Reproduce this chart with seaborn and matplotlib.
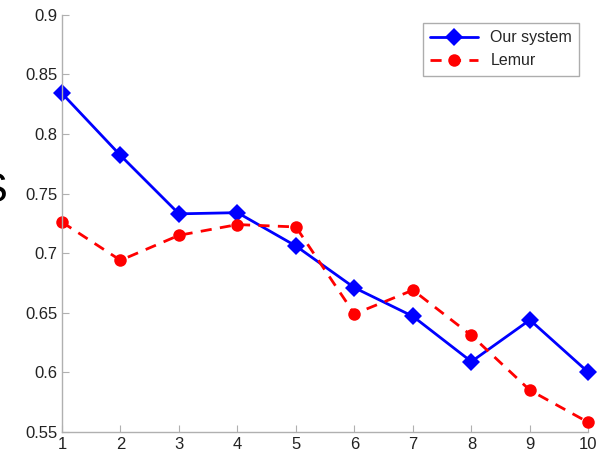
import numpy as np
import pandas as pd
import matplotlib.pyplot as plt
import seaborn as sns

# values
ranks = [1, 2, 3, 4, 5, 6, 7, 8, 9, 10]
our_system = [0.834, 0.782, 0.733, 0.734, 0.706, 0.671, 0.647, 0.609, 0.644, 0.600]
lemur = [0.726, 0.694, 0.715, 0.724, 0.722, 0.649, 0.669, 0.631, 0.585, 0.558]
series_names = ["Our system", "Lemur"]

df = pd.DataFrame({
    "rank": ranks * 2,
    "score": our_system + lemur,
    "system": [series_names[0]] * len(ranks) + [series_names[1]] * len(ranks),
})

sns.set_style("white")
plt.rcParams["font.family"] = ["Liberation Sans", "DejaVu Sans"]

fig = plt.figure(figsize=(6.05, 4.49), dpi=100)
ax = fig.add_axes([0.1025, 0.038, 0.870, 0.929])

sns.lineplot(
    data=df, x="rank", y="score", hue="system", style="system",
    palette={"Our system": "#0000ff", "Lemur": "#ff0000"},
    markers={"Our system": "D", "Lemur": "o"},
    dashes={"Our system": "", "Lemur": (4, 3)},
    markersize=9, linewidth=2, markeredgewidth=0, ax=ax,
)
for line in ax.lines:
    line.set_clip_on(False)

ax.set_xlim(1, 10)
ax.set_ylim(0.55, 0.9)
ax.set_xticks(ranks)
ax.set_yticks(np.arange(0.55, 0.901, 0.05))
ax.set_yticklabels(["0.55", "0.6", "0.65", "0.7", "0.75", "0.8", "0.85", "0.9"])
ax.set_xlabel("")
ax.set_ylabel("")
for side in ["top", "right"]:
    ax.spines[side].set_visible(False)
for side in ["left", "bottom"]:
    ax.spines[side].set_color("#b0b0b0")
    ax.spines[side].set_linewidth(1)
ax.tick_params(direction="in", length=5, color="#b0b0b0", labelsize=12,
               labelcolor="#222222", left=True, bottom=True)

leg = ax.legend(loc="upper right", fontsize=11.5, frameon=True, fancybox=False,
                handlelength=3.0, borderpad=0.45, bbox_to_anchor=(0.998, 0.999))
leg.get_frame().set_edgecolor("#999999")
leg.get_frame().set_linewidth(1)

# cropped axis label fragment at the left edge
fig.text(-0.035, 0.575, "S", fontsize=30, color="black", va="center")

fig.savefig("out.png", dpi=100)
